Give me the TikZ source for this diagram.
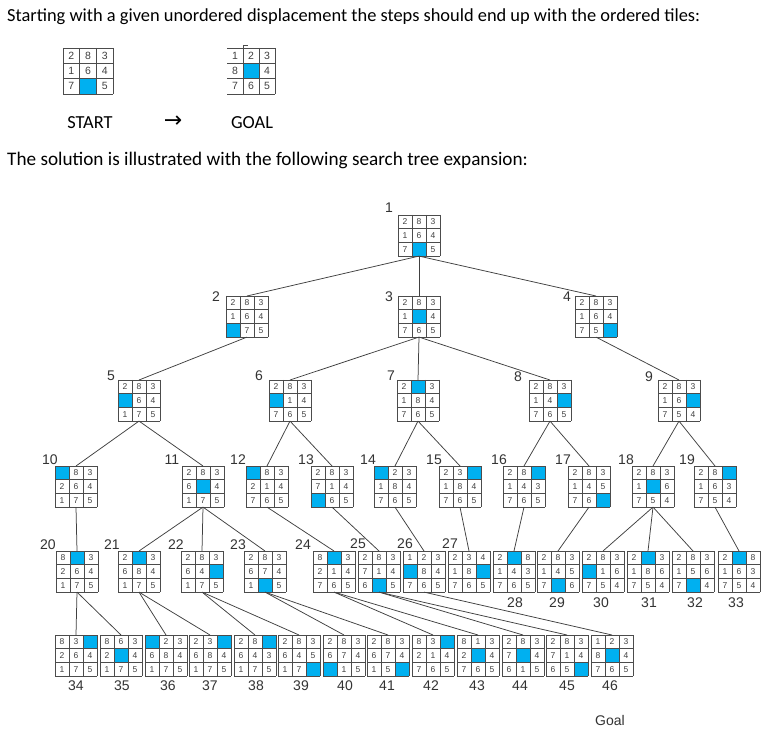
\documentclass[tikz,border=0pt]{standalone}
\usepackage{fontspec}
\setmainfont{Carlito}
\setsansfont{Liberation Sans}
\newfontfamily\dejavu{DejaVu Sans}
\usetikzlibrary{calc}
\definecolor{tileblue}{RGB}{0,176,240}
\tikzset{
  puzbox/.style={draw=none, inner sep=0pt, outer sep=0pt, anchor=north west},
  digit/.style={font=\sffamily\fontsize{8.5}{8.5}\selectfont, text=black!75, inner sep=0pt},
  gridline/.style={draw=black!70, line width=0.7pt},
  edge/.style={draw=black!75, line width=0.75pt},
  lbl/.style={font=\sffamily\fontsize{14}{14}\selectfont, text=black!80, inner sep=0pt},
  prose/.style={font=\fontsize{18.4}{20}\selectfont, inner sep=0pt, anchor=west},
}
\def\cw{14}\def\ch{13.7}
\newcommand\puzz[5][gridline]{%
  \node[puzbox, minimum width={3*\cw*1pt}, minimum height={3*\ch*1pt}] (#2) at (#3,#4) {};
  \begin{scope}[shift={(#3,#4)}]
    \foreach \v [count=\k from 0] in {#5} {
      \pgfmathtruncatemacro\cc{mod(\k,3)}
      \pgfmathtruncatemacro\rr{div(\k,3)}
      \ifnum\v=0
        \fill[tileblue] (\cc*\cw,\rr*\ch) rectangle ++(\cw,\ch);
      \else
        \node[digit] at ({(\cc+0.5)*\cw},{(\rr+0.5)*\ch}) {\v};
      \fi
    }
    \foreach \i in {0,1,2,3} {
      \draw[gridline] (0,\i*\ch) -- (3*\cw,\i*\ch);
    }
    \foreach \i in {1,2,3} {
      \draw[gridline] (\i*\cw,0) -- (\i*\cw,3*\ch);
    }
    \draw[#1] (0,0) -- (0,3*\ch);
  \end{scope}
}
\begin{document}
\begin{tikzpicture}[x=1pt,y=-1pt]
\fill[white] (0,0) rectangle (769,751);
\useasboundingbox (0,0) rectangle (769,751);

\node[prose] (intro) at (7,17) {Starting with a given unordered displacement the steps should end up with the ordered tiles:};
\node[prose, font=\fontsize{19.2}{21}\selectfont] (sol) at (7,160) {The solution is illustrated with the following search tree expansion:};

% start and goal
\begingroup
\def\cw{16.7}\def\ch{15.3}
\tikzset{digit/.append style={font=\sffamily\fontsize{10.5}{10.5}\selectfont}}
\puzz{start}{63}{48}{2,8,3,1,6,4,7,0,5}
\def\cw{16}
\puzz[draw=none]{goal}{227}{48}{1,2,3,8,0,4,7,6,5}
\draw[gridline] (goal.north west) ++(16,-3) -- ++(0,3);
\draw[gridline] (goal.north west) ++(16,-3) -- ++(5,0);
\endgroup
\node[prose, anchor=center] (startlbl) at (90,123) {START};
\node[prose, anchor=center, font=\fontsize{22}{22}\selectfont] (arrow) at (173,122) {\dejavu →};
\node[prose, anchor=center] (goallbl) at (252,123) {GOAL};

% tree
\puzz{n1}{398}{215}{2,8,3,1,6,4,7,0,5}
\puzz{n2}{226}{296}{2,8,3,1,6,4,0,7,5}
\puzz{n3}{398}{296}{2,8,3,1,0,4,7,6,5}
\puzz{n4}{575}{296}{2,8,3,1,6,4,7,5,0}
\puzz{n5}{118}{380}{2,8,3,0,6,4,1,7,5}
\puzz{n6}{269}{380}{2,8,3,0,1,4,7,6,5}
\puzz{n7}{397}{380}{2,0,3,1,8,4,7,6,5}
\puzz{n8}{529}{380}{2,8,3,1,4,0,7,6,5}
\puzz{n9}{658}{380}{2,8,3,1,6,0,7,5,4}
\puzz{n10}{55}{466}{0,8,3,2,6,4,1,7,5}
\puzz{n11}{182}{466}{2,8,3,6,0,4,1,7,5}
\puzz{n12}{246}{466}{0,8,3,2,1,4,7,6,5}
\puzz{n13}{311}{466}{2,8,3,7,1,4,0,6,5}
\puzz{n14}{374}{466}{0,2,3,1,8,4,7,6,5}
\puzz{n15}{439}{466}{2,3,0,1,8,4,7,6,5}
\puzz{n16}{503}{466}{2,8,0,1,4,3,7,6,5}
\puzz{n17}{568}{466}{2,8,3,1,4,5,7,6,0}
\puzz{n18}{632}{466}{2,8,3,1,0,6,7,5,4}
\puzz{n19}{694}{466}{2,8,0,1,6,3,7,5,4}
\puzz{n20}{56}{551}{8,0,3,2,6,4,1,7,5}
\puzz{n21}{118}{551}{2,0,3,6,8,4,1,7,5}
\puzz{n22}{181}{551}{2,8,3,6,4,0,1,7,5}
\puzz{n23}{244}{551}{2,8,3,6,7,4,1,0,5}
\puzz{n24}{313}{551}{8,0,3,2,1,4,7,6,5}
\puzz{n25}{358}{551}{2,8,3,7,1,4,6,0,5}
\puzz{n26}{403}{551}{1,2,3,0,8,4,7,6,5}
\puzz{n27}{448}{551}{2,3,4,1,8,0,7,6,5}
\puzz{n28}{493}{551}{2,0,8,1,4,3,7,6,5}
\puzz{n29}{537}{551}{2,8,3,1,4,5,7,0,6}
\puzz{n30}{582}{551}{2,8,3,0,1,6,7,5,4}
\puzz{n31}{627}{551}{2,0,3,1,8,6,7,5,4}
\puzz{n32}{672}{551}{2,8,3,1,5,6,7,0,4}
\puzz{n33}{718}{551}{2,0,8,1,6,3,7,5,4}
\puzz{n34}{55}{635}{8,3,0,2,6,4,1,7,5}
\puzz{n35}{100}{635}{8,6,3,2,0,4,1,7,5}
\puzz{n36}{145}{635}{0,2,3,6,8,4,1,7,5}
\puzz{n37}{189}{635}{2,3,0,6,8,4,1,7,5}
\puzz{n38}{234}{635}{2,8,0,6,4,3,1,7,5}
\puzz{n39}{278}{635}{2,8,3,6,4,5,1,7,0}
\puzz{n40}{323}{635}{2,8,3,6,7,4,0,1,5}
\puzz{n41}{367}{635}{2,8,3,6,7,4,1,5,0}
\puzz{n42}{412}{635}{8,3,0,2,1,4,7,6,5}
\puzz{n43}{457}{635}{8,1,3,2,0,4,7,6,5}
\puzz{n44}{502}{635}{2,8,3,7,0,4,6,1,5}
\puzz{n45}{546}{635}{2,8,3,7,1,4,6,5,0}
\puzz{n46}{591}{635}{1,2,3,8,0,4,7,6,5}

\foreach \a/\b in {1/2,1/3,1/4,2/5,3/6,3/7,3/8,4/9,5/10,5/11,6/12,6/13,7/14,7/15,8/16,8/17,9/18,9/19,
  10/20,11/21,11/22,11/23,12/24,13/25,14/26,15/27,16/28,17/29,18/30,18/31,18/32,19/33,
  20/34,20/35,21/36,21/37,22/38,22/39,23/40,23/41,24/42,24/43,25/44,25/45,26/46}
  \draw[edge] (n\a.south) -- (n\b.north);

% labels
\foreach \t/\x/\y in {1/389/208,2/216/297,3/389/297,4/567/297,
  5/111/376,6/259/376,7/391/376,8/518/377,9/649/377,
  10/50/460,11/172/460,12/238/460,13/306/460,14/368/460,15/434/460,16/499/460,17/563/460,18/626/460,19/687/460,
  20/48/545,21/112/545,22/176/545,23/238/545,24/303/545,25/358/544,26/405/544,27/450/544,
  28/515/603,29/557/603,30/601/603,31/649/603,32/695/603,33/736/603,
  34/76/686,35/122/686,36/168/686,37/210/686,38/256/686,39/301/686,40/345/686,
  41/387/686,42/431/686,43/477/686,44/520/686,45/567/686,46/610/686}
  \node[lbl] (l\t) at (\x,\y) {\t};
\node[lbl] (goaltxt) at (610,720) {Goal};
\end{tikzpicture}
\end{document}
